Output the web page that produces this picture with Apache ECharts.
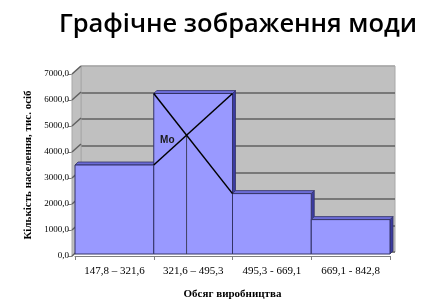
<!DOCTYPE html>
<html>
<head>
<meta charset="utf-8">
<script src="https://cdn.jsdelivr.net/npm/echarts@6/dist/echarts.min.js"></script>
<style>
html,body{margin:0;padding:0;background:#fff;}
#c{width:426px;height:305px;}
</style>
</head>
<body>
<div id="c"></div>
<script>
const titleText = 'Графічне зображення моди';
const categories = ['147,8 – 321,6', '321,6 – 495,3', '495,3 - 669,1', '669,1 - 842,8'];
const values = [3500, 6250, 2400, 1400];
const yMin = 0, yMax = 7000, yStep = 1000;
const yTicks = [0, 1000, 2000, 3000, 4000, 5000, 6000, 7000];
const xName = 'Обсяг виробництва';
const yName = 'Кількість населення, тис. осіб';
const modeLabel = 'Mo';

const DX = 9, DY = 8, AXOFF = 3, BD = 3;
const serif = '"Liberation Serif", "Times New Roman", serif';

const chart = echarts.init(document.getElementById('c'), null, {renderer: 'canvas'});
const fmt = v => v.toFixed(1).replace('.', ',');

const option = {
  animation: false,
  backgroundColor: '#ffffff',
  title: {
    text: titleText, left: 233, top: 7, textAlign: 'center',
    textStyle: {fontFamily: '"Open Sans", sans-serif', fontSize: 25.5, fontWeight: 600, color: '#000'}
  },
  grid: [
    {left: 81, top: 66, width: 314, height: 186, show: true, backgroundColor: '#c0c0c0', borderColor: '#a8a8a8', borderWidth: 1, z: 0},
    {left: 75, top: 74, width: 315, height: 186, show: false}
  ],
  xAxis: [
    {gridIndex: 0, type: 'category', data: categories, show: false},
    {gridIndex: 1, type: 'category', data: categories, boundaryGap: true,
     axisLine: {show: true, lineStyle: {color: '#808080', width: 1}},
     axisTick: {show: true, length: 4, lineStyle: {color: '#808080'}},
     axisLabel: {fontFamily: serif, fontSize: 11, color: '#000', margin: 10, interval: 0},
     name: xName, nameLocation: 'middle', nameGap: 33,
     nameTextStyle: {fontFamily: serif, fontSize: 11, fontWeight: 'bold', color: '#000'},
     splitLine: {show: false}, z: 5}
  ],
  yAxis: [
    {gridIndex: 0, type: 'value', min: yMin, max: yMax, interval: yStep,
     axisLine: {show: false}, axisTick: {show: false}, axisLabel: {show: false},
     splitLine: {show: true, lineStyle: {color: ['#606060','#606060','#606060','#606060','#606060','#606060','#606060','#a8a8a8'], width: 1.5}}},
    {gridIndex: 1, type: 'value', min: yMin, max: yMax, interval: yStep, offset: AXOFF,
     axisLine: {show: true, lineStyle: {color: '#808080', width: 1}},
     axisTick: {show: true, length: 4, lineStyle: {color: '#808080'}},
     axisLabel: {fontFamily: serif, fontSize: 9, color: '#000', margin: 3, formatter: fmt},
     splitLine: {show: false},
     name: yName, nameLocation: 'middle', nameRotate: 90, nameGap: 25,
     nameTextStyle: {fontFamily: serif, fontSize: 11, fontWeight: 'bold', color: '#000'}}
  ],
  series: [
    {
      type: 'custom', name: 'walls', xAxisIndex: 1, yAxisIndex: 1, z: 1, silent: true,
      data: [[0]],
      renderItem: function (params, api) {
        const cs = params.coordSys;
        const xf = cs.x - AXOFF, xb = xf + DX;
        const y0 = api.coord([0, yMin])[1], y1 = api.coord([0, yMax])[1];
        const children = [{
          type: 'polygon',
          shape: {points: [[xf, y0], [xf, y1], [xb, y1 - DY], [xb, y0 - DY]]},
          style: {fill: '#c0c0c0', stroke: '#a8a8a8', lineWidth: 1}
        }];
        yTicks.forEach(t => {
          const y = api.coord([0, t])[1];
          children.push({type: 'line', shape: {x1: xf, y1: y, x2: xb, y2: y - DY},
            style: {stroke: '#606060', lineWidth: 1.5}});
        });
        return {type: 'group', children: children};
      }
    },
    {
      type: 'custom', name: 'bars', xAxisIndex: 1, yAxisIndex: 1, z: 2, silent: true,
      data: values.map((v, i) => [i, v]),
      renderItem: function (params, api) {
        const i = api.value(0), v = api.value(1);
        const bw = api.size([1, 0])[0];
        const c = api.coord([i, v]), b = api.coord([i, yMin]);
        const x0 = c[0] - bw / 2, x1 = c[0] + bw / 2, yt = c[1], yb = b[1] - 2;
        return {type: 'group', children: [
          {type: 'polygon', shape: {points: [[x1, yt], [x1 + BD, yt - BD], [x1 + BD, yb - BD], [x1, yb]]},
           style: {fill: '#3b3ba0', stroke: '#333366', lineWidth: 0.8}},
          {type: 'polygon', shape: {points: [[x0, yt], [x0 + BD, yt - BD], [x1 + BD, yt - BD], [x1, yt]]},
           style: {fill: '#6b6bd6', stroke: '#333366', lineWidth: 0.8}},
          {type: 'rect', shape: {x: x0, y: yt, width: bw, height: yb - yt},
           style: {fill: '#9999ff', stroke: '#333366', lineWidth: 1}}
        ]};
      }
    },
    {
      type: 'custom', name: 'mode', xAxisIndex: 1, yAxisIndex: 1, z: 3, silent: true,
      data: [[values.indexOf(Math.max.apply(null, values))]],
      renderItem: function (params, api) {
        const m = api.value(0);
        const bw = api.size([1, 0])[0];
        const cx = api.coord([m, values[m]])[0];
        const xl = cx - bw / 2, xr = cx + bw / 2;
        const yM = api.coord([m, values[m]])[1];
        const yPrev = api.coord([m, values[m - 1]])[1];
        const yNext = api.coord([m, values[m + 1]])[1];
        const yBase = api.coord([m, yMin])[1] - 2;
        const sA = (yNext - yM) / (xr - xl), sB = (yM - yPrev) / (xr - xl);
        const t = (yPrev - yM) / (sA - sB);
        const ix = xl + t, iy = yM + sA * t;
        return {type: 'group', children: [
          {type: 'line', shape: {x1: ix, y1: iy, x2: ix, y2: yBase}, style: {stroke: '#404060', lineWidth: 1}},
          {type: 'line', shape: {x1: xl, y1: yM, x2: xr, y2: yNext}, style: {stroke: '#000', lineWidth: 1.5}},
          {type: 'line', shape: {x1: xl, y1: yPrev, x2: xr, y2: yM}, style: {stroke: '#000', lineWidth: 1.5}},
          {type: 'text', x: ix - 12, y: iy + 5,
           style: {text: modeLabel, fill: '#1a1a1a', font: 'bold 10px "Liberation Sans", Arial, sans-serif', align: 'right', verticalAlign: 'middle'}}
        ]};
      }
    }
  ]
};
chart.setOption(option);
</script>
</body>
</html>
